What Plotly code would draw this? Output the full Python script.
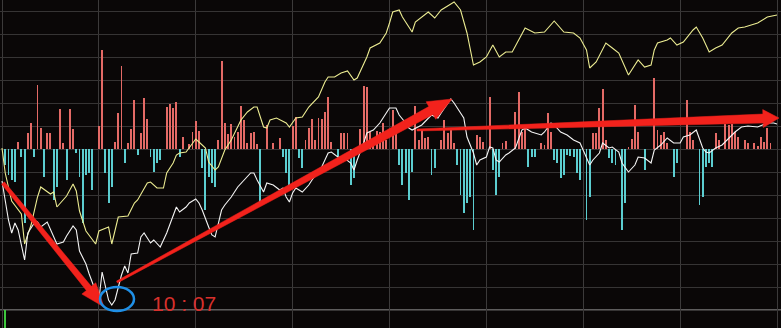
import plotly.graph_objects as go
import math

# ---- data: minutes since 9:30, values in % ----
yellow_points = [(0,0.01),(1,-0.24),(3,-0.52),(5,-0.61),(6,-0.65),(7,-0.95),(9,-0.76),(11,-0.48),(12,-0.38),(15,-0.45),
 (16,-0.43),(17,-0.58),(20,-0.47),(22,-0.35),(23,-0.42),(24,-0.62),(26,-0.82),(29,-0.95),(30,-0.82),(33,-0.78),
 (34,-0.95),(36,-0.68),(39,-0.67),(41,-0.54),(42,-0.51),(45,-0.34),(46,-0.33),(48,-0.39),(50,-0.39),(51,-0.24),
 (53,-0.14),(54,-0.06),(55,-0.04),(57,-0.03),(59,0.06),(60,0.10),(61,0.07),(63,0.01),(64,-0.13),(66,-0.21),
 (67,-0.18),(69,-0.01),(71,0.09),(74,0.29),(76,0.37),(78,0.42),(79,0.42),(81,0.22),(82,0.21),(83,0.29),
 (85,0.31),(88,0.26),(89,0.22),(91,0.31),(93,0.32),(95,0.42),(98,0.52),(100,0.67),(101,0.72),(103,0.72),
 (105,0.76),(107,0.78),(109,0.69),(110,0.71),(113,0.92),(114,1.01),(117,1.06),(119,1.16),(120,1.26),(121,1.37),
 (123,1.39),(124,1.32),(127,1.17),(128,1.27),(132,1.37),(134,1.31),(136,1.39),(140,1.47),(142,1.39),(144,1.16),
 (146,0.84),(148,0.87),(150,0.92),(152,1.04),(154,0.92),(156,0.97),(158,0.97),(161,1.16),(162,1.21),(165,1.16),
 (168,1.17),(171,1.28),(174,1.17),(177,1.16),(179,1.11),(181,0.99),(182,0.81),(184,0.87),(187,1.06),(189,1.01),
 (191,0.96),(194,0.74),(196,0.84),(197,0.89),(199,0.82),(201,0.84),(202,0.99),(203,1.06),(206,1.09),(207,1.11),
 (209,1.04),(211,1.07),(214,1.19),(215,1.22),(217,1.11),(219,0.97),(221,1.01),(223,1.04),(226,1.16),(228,1.21),
 (230,1.22),(234,1.26),(237,1.32),(240,1.34)]

white_points = [(0,-0.32),(2,-0.71),(3,-0.84),(4,-0.74),(5,-0.81),(7,-1.11),(8,-0.84),(10,-0.74),(11,-0.73),(12,-0.78),
 (14,-0.73),(15,-0.81),(17,-0.95),(19,-0.93),(20,-0.87),(22,-0.77),(23,-0.81),(24,-1.02),(26,-1.15),(27,-1.25),
 (29,-1.42),(30,-1.51),(31,-1.23),(33,-1.51),(34,-1.56),(35,-1.51),(37,-1.26),(38,-1.17),(39,-1.24),(40,-1.05),
 (42,-1.04),(43,-0.88),(44,-0.84),(46,-0.94),(47,-0.91),(49,-0.98),(51,-0.84),(53,-0.68),(54,-0.58),(55,-0.63),
 (57,-0.58),(58,-0.54),(60,-0.50),(61,-0.54),(62,-0.61),(64,-0.78),(65,-0.86),(66,-0.88),(67,-0.74),(68,-0.61),
 (69,-0.56),(71,-0.48),(73,-0.38),(75,-0.31),(77,-0.24),(78,-0.24),(79,-0.31),(81,-0.43),(82,-0.34),(84,-0.36),
 (86,-0.41),(87,-0.39),(88,-0.48),(89,-0.53),(90,-0.44),(91,-0.39),(93,-0.43),(95,-0.36),(96,-0.31),(99,-0.18),
 (101,-0.04),(102,-0.03),(104,-0.08),(106,-0.09),(108,-0.14),(109,-0.21),(110,-0.11),(112,0.06),(113,0.16),(115,0.19),
 (117,0.26),(119,0.36),(120,0.41),(122,0.41),(123,0.34),(125,0.26),(126,0.21),(127,0.19),(130,0.24),(133,0.34),
 (135,0.31),(136,0.36),(138,0.46),(139,0.50),(140,0.46),(143,0.31),(144,0.12),(146,-0.04),(147,-0.16),(148,-0.11),
 (150,-0.08),(151,0.02),(152,0.01),(153,-0.11),(154,-0.13),(156,-0.06),(157,-0.04),(159,0.01),(161,0.19),(162,0.21),
 (164,0.17),(165,0.16),(167,0.14),(168,0.17),(170,0.26),(171,0.24),(173,0.17),(175,0.14),(177,0.09),(179,0.06),
 (180,-0.01),(182,-0.16),(183,-0.11),(185,-0.04),(186,0.06),(188,0.01),(189,0.02),(191,-0.03),(192,-0.14),(194,-0.23),
 (196,-0.16),(197,-0.08),(199,-0.09),(201,-0.14),(202,-0.01),(204,0.04),(206,0.11),(208,0.06),(210,0.06),(211,0.12),
 (213,0.14),(214,0.17),(215,0.19),(217,0.01),(218,-0.03),(219,-0.04),(221,0.01),(223,0.04),(225,0.11),(227,0.17),
 (229,0.22),(231,0.23),(234,0.22),(237,0.26),(239,0.26),(240,0.25)]

red_bars = [(5,0.07),(8,0.16),(9,0.26),(11,0.64),(12,0.21),(14,0.16),(15,0.16),(18,0.40),(19,0.06),(21,0.40),(22,0.20),
 (30,0.23),(31,0.99),(35,0.07),(36,0.36),(37,0.83),(39,0.06),(40,0.20),(41,0.49),(43,0.16),(44,0.51),(45,0.30),
 (51,0.42),(52,0.45),(53,0.41),(54,0.47),(56,0.12),(58,0.05),(59,0.17),(60,0.28),(61,0.18),(67,0.09),(68,0.88),
 (69,0.26),(70,0.15),(71,0.25),(72,0.12),(73,0.17),(74,0.43),(75,0.29),(76,0.06),(77,0.16),(78,0.17),(79,0.05),
 (82,0.24),(84,0.06),(86,0.11),(90,0.23),(91,0.32),(94,0.09),(95,0.21),(96,0.30),(97,0.09),(98,0.31),(99,0.30),
 (100,0.37),(101,0.52),(102,0.07),(105,0.16),(106,0.16),(107,0.16),(111,0.20),(112,0.63),(113,0.62),(114,0.17),
 (115,0.10),(116,0.18),(117,0.17),(118,0.26),(119,0.09),(121,0.39),(122,0.16),(128,0.43),(129,0.09),(130,0.19),
 (131,0.11),(132,0.12),(136,0.09),(137,0.29),(138,0.16),(139,0.21),(140,0.06),(147,0.14),(148,0.12),(149,0.07),
 (151,0.52),(155,0.06),(156,0.08),(159,0.37),(160,0.57),(161,0.17),(162,0.24),(167,0.06),(168,0.04),(169,0.36),
 (170,0.17),(183,0.16),(184,0.16),(185,0.41),(186,0.60),(187,0.09),(194,0.02),(195,0.10),(196,0.44),(197,0.17),
 (202,0.71),(203,0.19),(204,0.14),(205,0.17),(206,0.06),(212,0.49),(213,0.17),(214,0.09),(221,0.16),(222,0.09),
 (224,0.25),(225,0.24),(226,0.25),(227,0.17),(228,0.12),(230,0.09),(231,0.06),(233,0.06),(234,0.03),(235,0.12),
 (236,0.07),(237,0.21),(238,0.06)]

cyan_bars = [(1,-0.16),(2,-0.26),(3,-0.31),(4,-0.33),(6,-0.08),(7,-0.74),(10,-0.08),(13,-0.28),(16,-0.51),(17,-0.38),
 (20,-0.31),(23,-0.04),(24,-0.28),(25,-0.74),(26,-0.26),(27,-0.24),(28,-0.41),(32,-0.24),(33,-0.54),(34,-0.38),
 (38,-0.14),(42,-0.06),(46,-0.08),(47,-0.23),(48,-0.14),(49,-0.11),(55,-0.08),(62,-0.19),(63,-0.61),(64,-0.28),
 (65,-0.34),(66,-0.38),(80,-0.55),(87,-0.08),(88,-0.24),(89,-0.38),(92,-0.09),(93,-0.19),(104,-0.08),(108,-0.36),
 (109,-0.29),(123,-0.16),(124,-0.36),(125,-0.24),(126,-0.51),(127,-0.23),(133,-0.26),(134,-0.19),(141,-0.16),
 (142,-0.46),(143,-0.64),(144,-0.54),(145,-0.48),(146,-0.81),(152,-0.21),(153,-0.46),(154,-0.28),(163,-0.18),
 (164,-0.08),(165,-0.08),(171,-0.11),(172,-0.14),(173,-0.29),(174,-0.26),(175,-0.06),(176,-0.07),(177,-0.08),
 (178,-0.24),(179,-0.31),(181,-0.71),(182,-0.48),(188,-0.09),(189,-0.14),(190,-0.16),(192,-0.81),(193,-0.54),
 (199,-0.21),(208,-0.28),(209,-0.14),(216,-0.56),(217,-0.48),(218,-0.18),(219,-0.14),(220,-0.18)]

volume_first = [(1, -1.61, -0.20)]  # minute, base, height
label_text = "10 : 07"

W, H = 781, 328
BG = "#0a0707"

fig = go.Figure()

fig.add_trace(go.Bar(x=[p[0] for p in red_bars], y=[p[1] for p in red_bars], width=0.28,
                     marker=dict(color="#e46a66", line=dict(width=0))))
fig.add_trace(go.Bar(x=[p[0] for p in cyan_bars], y=[p[1] for p in cyan_bars], width=0.28,
                     marker=dict(color="#5ccdd0", line=dict(width=0))))
fig.add_trace(go.Bar(x=[v[0] for v in volume_first], y=[v[2] for v in volume_first],
                     base=[v[1] for v in volume_first], width=0.35,
                     marker=dict(color="#3ec83e", line=dict(width=0))))
fig.add_trace(go.Scatter(x=[p[0] for p in yellow_points], y=[p[1] for p in yellow_points], mode="lines",
                         line=dict(color="#ecec92", width=1.1)))
fig.add_trace(go.Scatter(x=[p[0] for p in white_points], y=[p[1] for p in white_points], mode="lines",
                         line=dict(color="#f4f4f4", width=1.1)))

# ---- decorations (hand-drawn annotation overlay), in pixel space -> paper ----
def P(px, py):
    return px / W, 1 - py / H

def arrow_path(p0, tip, w0, w1, head_len, head_w):
    dx, dy = tip[0] - p0[0], tip[1] - p0[1]
    L = math.hypot(dx, dy)
    ux, uy = dx / L, dy / L
    nx, ny = -uy, ux
    hb = (tip[0] - ux * head_len, tip[1] - uy * head_len)
    pts = [(p0[0] + nx * w0, p0[1] + ny * w0), (hb[0] + nx * w1, hb[1] + ny * w1),
           (hb[0] + nx * head_w, hb[1] + ny * head_w), tip,
           (hb[0] - nx * head_w, hb[1] - ny * head_w), (hb[0] - nx * w1, hb[1] - ny * w1),
           (p0[0] - nx * w0, p0[1] - ny * w0)]
    s = ""
    for i, (x, y) in enumerate(pts):
        a, b = P(x, y)
        s += ("M" if i == 0 else "L") + f"{a:.5f},{b:.5f} "
    return s + "Z"

shapes = []
shapes.append(dict(type="line", xref="paper", yref="y", x0=0, x1=1, y0=-1.61, y1=-1.61,
                   line=dict(color="#5e5c5c", width=2), layer="below"))
red = "#f2221c"
for (p0, tip, w0, w1, hl, hw) in [((3, 183), (104, 307), 1.8, 3.2, 24, 9),
                                  ((117, 282), (452, 99), 1.0, 4.5, 24, 10),
                                  ((417, 130), (779, 118), 1.0, 4.5, 16, 9)]:
    shapes.append(dict(type="path", xref="paper", yref="paper", path=arrow_path(p0, tip, w0, w1, hl, hw),
                       fillcolor=red, line=dict(color=red, width=0.5)))
x0, y0 = P(100, 311)
x1, y1 = P(134, 287)
shapes.append(dict(type="circle", xref="paper", yref="paper", x0=x0, y0=y0, x1=x1, y1=y1,
                   line=dict(color="#1f8fe6", width=2.5)))

tx, ty = P(184, 303)
fig.update_layout(
    width=W, height=H, margin=dict(l=0, r=0, t=0, b=0),
    paper_bgcolor=BG, plot_bgcolor=BG, showlegend=False, barmode="overlay", bargap=0,
    xaxis=dict(range=[-0.62, 241.24], showgrid=True, dtick=30, tick0=0, gridcolor="#3c3a3a", gridwidth=1,
               showticklabels=False, zeroline=False, ticks="", fixedrange=True),
    yaxis=dict(range=[-1.79, 1.49], showgrid=True, dtick=0.23, tick0=0, gridcolor="#363434", gridwidth=1,
               showticklabels=False, zeroline=False, ticks="", fixedrange=True),
    shapes=shapes,
    annotations=[dict(xref="paper", yref="paper", x=tx, y=ty, xanchor="center", yanchor="middle",
                      text=label_text, showarrow=False,
                      font=dict(family="Liberation Sans, Arial", size=21, color="#d8302c"))],
)

fig.write_html("out.html", config={"displayModeBar": False})
